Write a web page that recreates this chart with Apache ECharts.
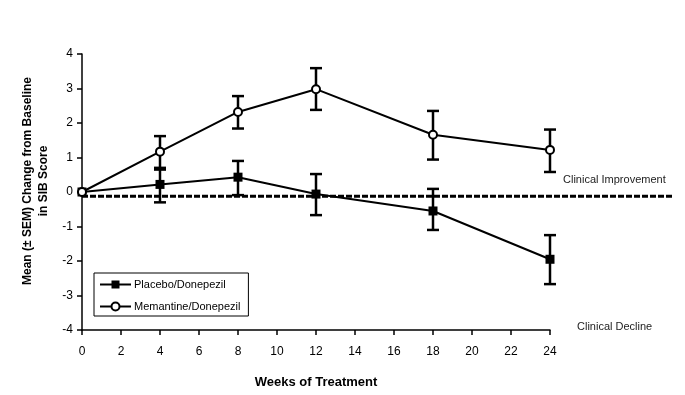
<!DOCTYPE html>
<html><head><meta charset="utf-8">
<script src="https://cdn.jsdelivr.net/npm/echarts@6/dist/echarts.min.js"></script>
<style>html,body{margin:0;padding:0;background:#fff}#c{width:685px;height:395px}</style>
</head><body><div id="c"></div>
<script>
const weeks = [0, 4, 8, 12, 18, 24];
const xTicks = [0, 2, 4, 6, 8, 10, 12, 14, 16, 18, 20, 22, 24];
const yTicks = [-4, -3, -2, -1, 0, 1, 2, 3, 4];
const placeboMean = [0, 0.22, 0.43, -0.06, -0.55, -1.95];
const placeboLow  = [0, -0.30, -0.09, -0.67, -1.10, -2.67];
const placeboHigh = [0, 0.65, 0.90, 0.52, 0.09, -1.25];
const memantineMean = [0, 1.17, 2.32, 2.98, 1.66, 1.22];
const memantineLow  = [0, 0.70, 1.84, 2.38, 0.94, 0.58];
const memantineHigh = [0, 1.62, 2.78, 3.59, 2.35, 1.81];
const threshold = -0.12;
const seriesNames = ['Placebo/Donepezil', 'Memantine/Donepezil'];

const FONT = 'Liberation Sans, Arial, sans-serif';
const chart = echarts.init(document.getElementById('c'), null, {renderer: 'canvas'});

function errData(lo, hi) {
  return weeks.map((w, i) => [w, lo[i], hi[i]]).filter((d, i) => i > 0);
}
function errRender(params, api) {
  const x = api.value(0);
  const lo = api.coord([x, api.value(1)]);
  const hi = api.coord([x, api.value(2)]);
  const cw = 6;
  const st = {stroke: '#000', lineWidth: 2.5};
  return {type: 'group', children: [
    {type: 'line', shape: {x1: lo[0], y1: lo[1], x2: hi[0], y2: hi[1]}, style: st},
    {type: 'line', shape: {x1: lo[0]-cw, y1: lo[1], x2: lo[0]+cw, y2: lo[1]}, style: st},
    {type: 'line', shape: {x1: hi[0]-cw, y1: hi[1], x2: hi[0]+cw, y2: hi[1]}, style: st}
  ]};
}

const option = {
  animation: false,
  backgroundColor: '#fff',
  textStyle: {fontFamily: FONT},
  grid: [
    {left: 82, right: 135, top: 54, bottom: 65},
    {left: 82, right: 12, top: 54, bottom: 65}
  ],
  xAxis: [{
    type: 'value', min: 0, max: 24, interval: 2, gridIndex: 0,
    name: 'Weeks of Treatment', nameLocation: 'middle', nameGap: 46,
    nameTextStyle: {fontFamily: FONT, fontSize: 13, fontWeight: 'bold', color: '#000'},
    axisLine: {onZero: false, lineStyle: {color: '#000', width: 1.5}},
    axisTick: {show: true, inside: false, length: 5, lineStyle: {color: '#000', width: 1.5}},
    axisLabel: {color: '#000', fontSize: 12, margin: 16, fontFamily: FONT,
      formatter: v => xTicks.includes(v) ? String(v) : ''},
    splitLine: {show: false}
  }, {
    type: 'value', min: 0, max: 30.3, gridIndex: 1, show: false
  }],
  yAxis: [{
    type: 'value', min: -4, max: 4, interval: 1, gridIndex: 0,
    name: 'Mean (± SEM) Change from Baseline\nin SIB Score', nameLocation: 'middle', nameGap: 29, nameRotate: 90,
    nameTextStyle: {fontFamily: FONT, fontSize: 12, fontWeight: 'bold', color: '#000', lineHeight: 16, padding: [0, 0, 0, 22]},
    axisLine: {show: true, onZero: false, lineStyle: {color: '#000', width: 1.5}},
    axisTick: {show: true, length: 5, lineStyle: {color: '#000', width: 1.5}},
    axisLabel: {color: '#000', fontSize: 12, margin: 9, fontFamily: FONT,
      formatter: v => yTicks.includes(v) ? String(v) : ''},
    splitLine: {show: false}
  }, {
    type: 'value', min: -4, max: 4, gridIndex: 1, show: false
  }],
  legend: {
    data: seriesNames,
    orient: 'vertical', left: 94, top: 273,
    padding: [6, 8, 4, 5], itemGap: 11, itemWidth: 31, itemHeight: 10,
    borderColor: '#000', borderWidth: 1,
    textStyle: {fontFamily: FONT, fontSize: 11, color: '#000', padding: [0, 0, 0, -2]}
  },
  graphic: [
    {type: 'text', left: 563, top: 174, style: {text: 'Clinical Improvement', font: '11px ' + FONT, fill: '#222'}},
    {type: 'text', left: 577, top: 321, style: {text: 'Clinical Decline', font: '11px ' + FONT, fill: '#222'}}
  ],
  series: [
    {
      type: 'line', xAxisIndex: 1, yAxisIndex: 1, silent: true, symbol: 'none',
      data: [[0, threshold], [30.3, threshold]],
      lineStyle: {color: '#000', width: 3, type: [6, 2]}, z: 1
    },
    {type: 'custom', renderItem: errRender, data: errData(placeboLow, placeboHigh), z: 2, silent: true},
    {type: 'custom', renderItem: errRender, data: errData(memantineLow, memantineHigh), z: 2, silent: true},
    {
      name: seriesNames[0], type: 'line', z: 3,
      data: weeks.map((w, i) => [w, placeboMean[i]]),
      symbol: 'rect', symbolSize: 9, showAllSymbol: true,
      lineStyle: {color: '#000', width: 2},
      itemStyle: {color: '#000', borderColor: '#000', borderWidth: 0}
    },
    {
      name: seriesNames[1], type: 'line', z: 4,
      data: weeks.map((w, i) => [w, memantineMean[i]]),
      symbol: 'circle', symbolSize: 8, showAllSymbol: true,
      lineStyle: {color: '#000', width: 2},
      itemStyle: {color: '#fff', borderColor: '#000', borderWidth: 2}
    }
  ]
};
chart.setOption(option);
</script>
</body></html>
